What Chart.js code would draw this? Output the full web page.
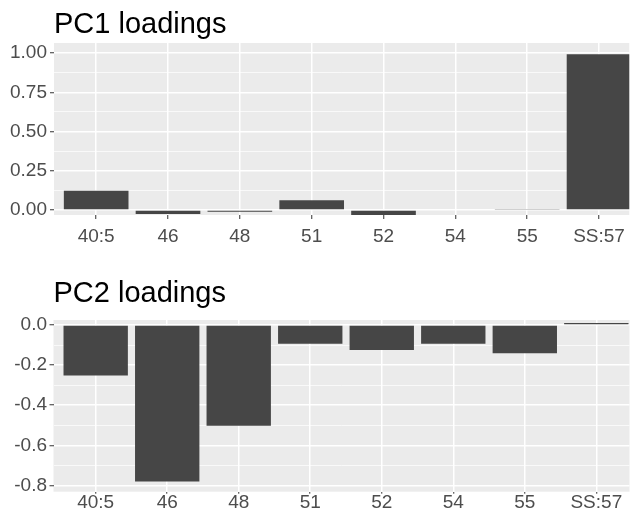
<!DOCTYPE html>
<html>
<head>
<title>PC1 / PC2 loadings</title>
<script src="https://cdn.jsdelivr.net/npm/chart.js"></script>
<style>
  body { margin: 0; background: #fff; overflow: hidden; }
  canvas { position: absolute; left: 0; }
</style>
</head>
<body>
<canvas id="pc1" width="631" height="252" style="top:0px"></canvas>
<canvas id="pc2" width="631" height="241" style="top:270px"></canvas>
<script>
// categories and loadings
const sites = ['40:5', '46', '48', '51', '52', '54', '55', 'SS:57'];
const pc1Loadings = [0.123, -0.025, -0.012, 0.062, -0.033, 0, 0.003, 0.992];
const pc2Loadings = [-0.252, -0.78, -0.502, -0.094, -0.124, -0.093, -0.141, 0.01];

// y tick values (major get a label, minor only a thin grid line)
const pc1Major = [0, 0.25, 0.5, 0.75, 1.0];
const pc1Minor = [0.125, 0.375, 0.625, 0.875];
const pc2Major = [0, -0.2, -0.4, -0.6, -0.8];
const pc2Minor = [-0.1, -0.3, -0.5, -0.7];

Chart.defaults.font.family = "'Liberation Sans', Arial, sans-serif";
Chart.defaults.color = '#4D4D4D';

// grey ggplot-style panel behind the grid
const panelBg = {
    id: 'panelBg',
    beforeDraw(chart) {
        const { ctx, chartArea: a } = chart;
        ctx.save();
        ctx.fillStyle = '#EBEBEB';
        ctx.fillRect(a.left, a.top, a.right - a.left, a.bottom - a.top);
        ctx.restore();
    }
};

function loadingsChart(id, title, values, opts) {
    const major = opts.major;
    const isMajor = v => major.includes(v);
    return new Chart(document.getElementById(id), {
        type: 'bar',
        data: {
            datasets: [{
                data: values.map((v, i) => ({ x: i + 1, y: v })),
                backgroundColor: '#464646',
                borderWidth: 0,
                barPercentage: 0.9,
                categoryPercentage: 1.0
            }]
        },
        plugins: [panelBg],
        options: {
            responsive: false,
            animation: false,
            layout: { padding: { top: opts.padTop, right: opts.padRight, left: 0, bottom: 0 } },
            plugins: {
                legend: { display: false },
                tooltip: { enabled: false },
                title: {
                    display: true,
                    text: title,
                    align: 'start',
                    fullSize: false,
                    color: '#000',
                    font: { size: 29, weight: 'normal' },
                    padding: { top: 0, bottom: opts.titleGap }
                }
            },
            scales: {
                x: {
                    type: 'linear',
                    min: opts.xMin,
                    max: opts.xMax,
                    offset: false,
                    afterBuildTicks: s => { s.ticks = sites.map((_, i) => ({ value: i + 1 })); },
                    afterFit: s => { s.height = opts.xAxisHeight; },
                    ticks: {
                        autoSkip: false,
                        maxRotation: 0,
                        padding: opts.xPad,
                        font: { size: 19 },
                        callback: v => sites[v - 1]
                    },
                    grid: {
                        offset: false,
                        color: '#FFFFFF',
                        lineWidth: 1.5,
                        tickColor: '#333333',
                        tickLength: opts.xTick,
                        tickWidth: 1
                    },
                    border: { display: false }
                },
                y: {
                    min: opts.yMin,
                    max: opts.yMax,
                    afterBuildTicks: s => {
                        s.ticks = major.concat(opts.minor).map(v => ({ value: v }));
                    },
                    afterFit: s => { s.width = opts.yAxisWidth; },
                    ticks: {
                        autoSkip: false,
                        padding: opts.yPad,
                        font: { size: 19 },
                        callback: v => isMajor(v) ? v.toFixed(opts.decimals) : ''
                    },
                    grid: {
                        color: '#FFFFFF',
                        lineWidth: c => isMajor(c.tick.value) ? 1.5 : 0.7,
                        tickColor: c => isMajor(c.tick.value) ? '#333333' : 'rgba(0,0,0,0)',
                        tickLength: 4,
                        tickWidth: 1
                    },
                    border: { display: false }
                }
            }
        }
    });
}

loadingsChart('pc1', 'PC1 loadings', pc1Loadings, {
    major: pc1Major, minor: pc1Minor, decimals: 2,
    yMin: -0.032, yMax: 1.064,
    xMin: 0.413, xMax: 8.421,
    yAxisWidth: 54, yPad: 3,
    padTop: 7.2, padRight: 0, titleGap: 1.0,
    xAxisHeight: 37, xTick: 4, xPad: 6
});

loadingsChart('pc2', 'PC2 loadings', pc2Loadings, {
    major: pc2Major, minor: pc2Minor, decimals: 1,
    yMin: -0.831, yMax: 0.025,
    xMin: 0.41, xMax: 8.464,
    yAxisWidth: 53.5, yPad: 2.5,
    padTop: 7, padRight: 1.5, titleGap: 8.2,
    xAxisHeight: 19.3, xTick: 2, xPad: -2.7
});
</script>
</body>
</html>
